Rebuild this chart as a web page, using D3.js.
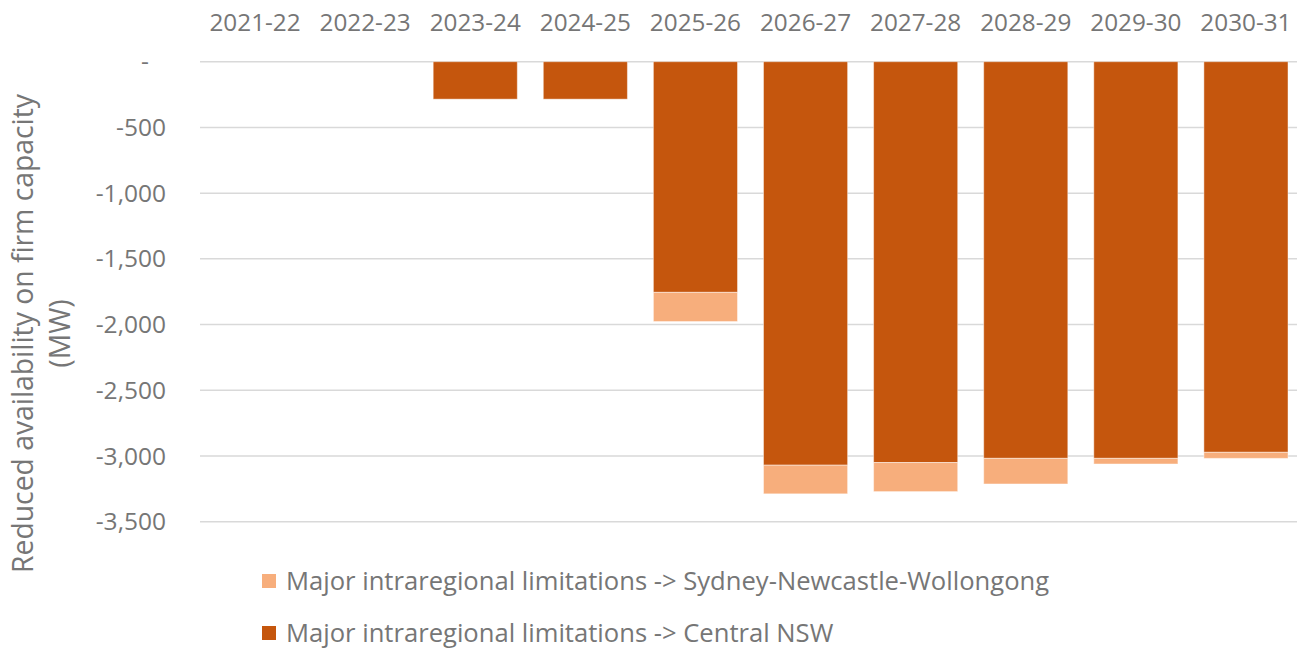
<!DOCTYPE html>
<html>
<head>
<meta charset="utf-8">
<script src="https://cdn.jsdelivr.net/npm/d3@7"></script>
<style>
  html, body { margin: 0; padding: 0; background: #fff; }
  svg { display: block; font-family: "Open Sans", "Noto Sans", sans-serif; }
</style>
</head>
<body>
<svg id="chart" width="1301" height="652"></svg>
<script>
const categories = ["2021-22","2022-23","2023-24","2024-25","2025-26","2026-27","2027-28","2028-29","2029-30","2030-31"];
const centralNSW = [0, 0, -285, -285, -1755, -3070, -3050, -3018, -3018, -2972];
const sydneyNewcastleWollongong = [0, 0, 0, 0, -222, -218, -221, -195, -43, -46];
const yTicks = [0, -500, -1000, -1500, -2000, -2500, -3000, -3500];
const seriesNames = ["Major intraregional limitations -> Sydney-Newcastle-Wollongong", "Major intraregional limitations -> Central NSW"];
const colors = { snw: "#F7AE7C", central: "#C5560D" };

const svg = d3.select("#chart");
const textColor = "#767676";

const x = d3.scaleBand().domain(categories).range([200, 1301]).paddingInner(0.236).paddingOuter(0.118);
const y = d3.scaleLinear().domain([-3500, 0]).range([521.7, 61.7]);

// gridlines
svg.append("g").selectAll("line").data(yTicks).join("line")
  .attr("x1", 200).attr("x2", 1297)
  .attr("y1", d => y(d)).attr("y2", d => y(d))
  .attr("stroke", "#d9d9d9").attr("stroke-width", 1.5);

// y tick labels
const fmt = d3.format(",");
svg.append("g").selectAll("text").data(yTicks).join("text")
  .attr("x", d => d === 0 ? 149 : 166)
  .attr("y", d => y(d))
  .attr("dy", "0.35em")
  .attr("text-anchor", "end")
  .attr("fill", textColor)
  .attr("font-size", 24.5)
  .text(d => d === 0 ? "-" : fmt(d).replace("−", "-"));

// category labels on top
svg.append("g").selectAll("text").data(categories).join("text")
  .attr("x", d => x(d) + x.bandwidth() / 2)
  .attr("y", 22)
  .attr("dy", "0.35em")
  .attr("text-anchor", "middle")
  .attr("fill", textColor)
  .attr("font-size", 24.3)
  .text(d => d);

// bars
const data = categories.map((c, i) => ({ c, central: centralNSW[i], snw: sydneyNewcastleWollongong[i] }));
const bars = svg.append("g");
bars.selectAll("rect.central").data(data.filter(d => d.central !== 0)).join("rect")
  .attr("class", "central")
  .attr("x", d => x(d.c)).attr("width", x.bandwidth())
  .attr("y", d => y(0)).attr("height", d => y(d.central) - y(0))
  .attr("fill", colors.central)
  .attr("stroke", "rgba(255,255,255,0.45)").attr("stroke-width", 1);
bars.selectAll("rect.snw").data(data.filter(d => d.snw !== 0)).join("rect")
  .attr("class", "snw")
  .attr("x", d => x(d.c)).attr("width", x.bandwidth())
  .attr("y", d => y(d.central)).attr("height", d => y(d.central + d.snw) - y(d.central))
  .attr("fill", colors.snw)
  .attr("stroke", "rgba(255,255,255,0.45)").attr("stroke-width", 1);

// y axis title
const title = svg.append("text")
  .attr("transform", "translate(0,333.5) rotate(-90)")
  .attr("text-anchor", "middle")
  .attr("fill", textColor)
  .attr("font-size", 28.3);
title.append("tspan").attr("x", 0).attr("y", 33).text("Reduced availability on firm capacity");
title.append("tspan").attr("x", 0).attr("y", 70).text("(MW)");

// legend
const legend = svg.append("g");
const legendItems = [{ name: seriesNames[0], color: colors.snw, y: 581 }, { name: seriesNames[1], color: colors.central, y: 633 }];
legendItems.forEach(it => {
  legend.append("rect").attr("x", 262).attr("y", it.y - 7).attr("width", 14).attr("height", 14).attr("fill", it.color);
  legend.append("text").attr("x", 286).attr("y", it.y).attr("dy", "0.35em")
    .attr("fill", textColor).attr("font-size", 25.6).text(it.name);
});
</script>
</body>
</html>
